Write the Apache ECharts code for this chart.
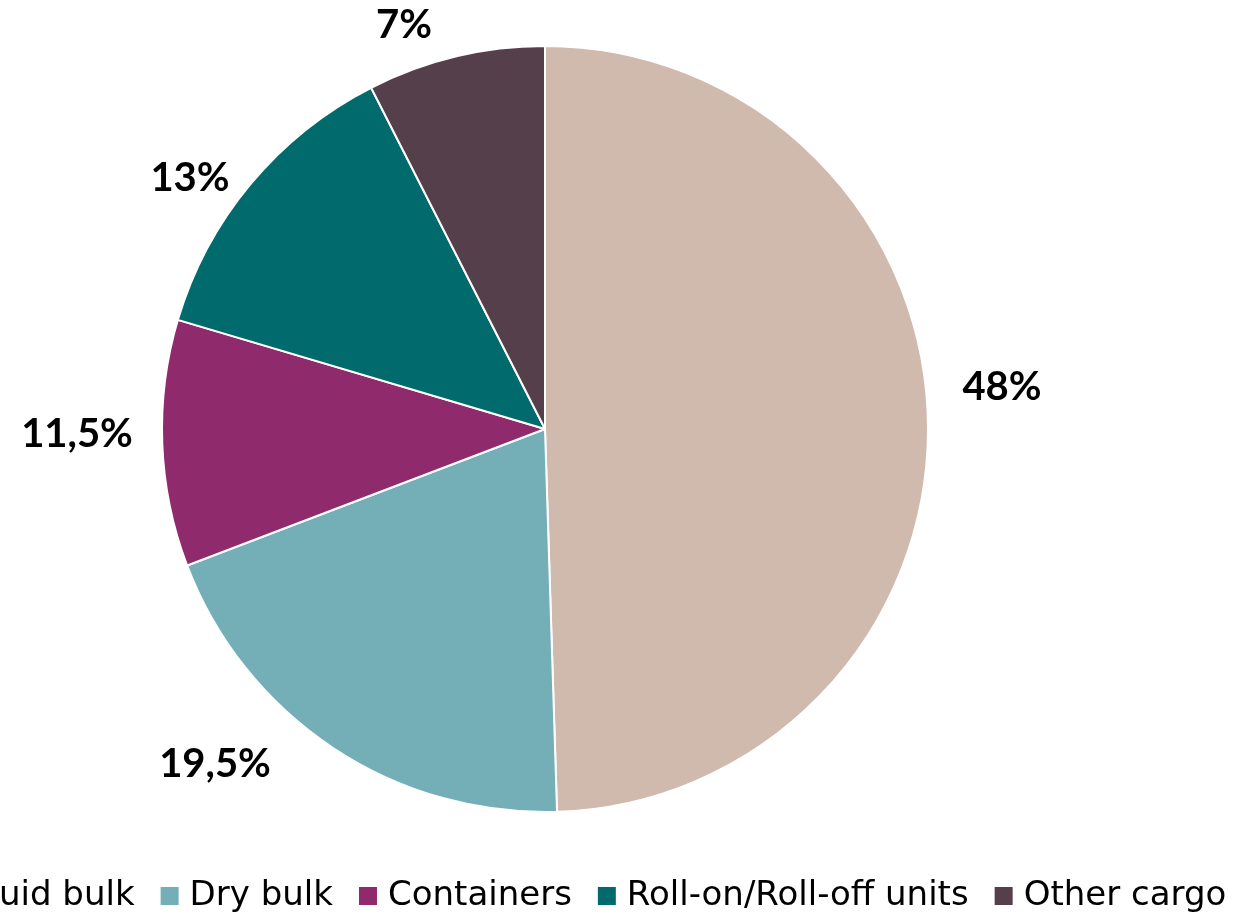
<!DOCTYPE html>
<html>
<head>
<meta charset="utf-8">
<script src="https://cdn.jsdelivr.net/npm/echarts@6/dist/echarts.min.js"></script>
<style>
  html, body { margin: 0; padding: 0; background: #ffffff; }
  #chart { width: 1239px; height: 915px; }
</style>
</head>
<body>
<div id="chart"></div>
<script>
// ---- data ----
const categories = ['Liquid bulk', 'Dry bulk', 'Containers', 'Roll-on/Roll-off units', 'Other cargo'];
// slice sizes as drawn (share of the full circle, %)
const shares = [49.5, 19.7, 10.4, 12.9, 7.5];
// data label texts as printed on the chart
const shareLabels = ['48%', '19,5%', '11,5%', '13%', '7%'];

// ---- styles ----
const colors = ['#D0B9AD', '#74AFB7', '#8F2A6D', '#006A6C', '#553F4B'];
// label centre positions (px) — placement style
const labelPos = [[1002, 387], [215, 764], [77, 434], [190, 178], [404, 25]];

const chart = echarts.init(document.getElementById('chart'), null, { renderer: 'canvas' });

chart.setOption({
  animation: false,
  backgroundColor: '#ffffff',
  color: colors,
  legend: {
    data: categories,
    orient: 'horizontal',
    left: -82,
    top: 879,
    width: 1400,
    padding: 0,
    icon: 'rect',
    itemWidth: 20,
    itemHeight: 20,
    itemGap: 24,
    selectedMode: false,
    textStyle: {
      fontFamily: 'DejaVu Sans',
      fontSize: 34,
      color: '#000000',
      padding: [0, 0, 0, 5]
    }
  },
  series: [{
    type: 'pie',
    center: [545, 429],
    radius: 383,
    startAngle: 90,
    clockwise: true,
    avoidLabelOverlap: false,
    itemStyle: {
      borderColor: '#ffffff',
      borderWidth: 2
    },
    label: {
      show: true,
      position: 'outside',
      fontFamily: 'Lato',
      fontWeight: 'bold',
      fontSize: 40,
      color: '#000000',
      formatter: function (p) { return shareLabels[p.dataIndex]; }
    },
    labelLine: { show: false },
    labelLayout: function (p) {
      const pos = labelPos[p.dataIndex];
      return { x: pos[0], y: pos[1], align: 'center', verticalAlign: 'middle' };
    },
    emphasis: { disabled: true },
    data: categories.map(function (c, i) { return { name: c, value: shares[i] }; })
  }]
});
</script>
</body>
</html>
